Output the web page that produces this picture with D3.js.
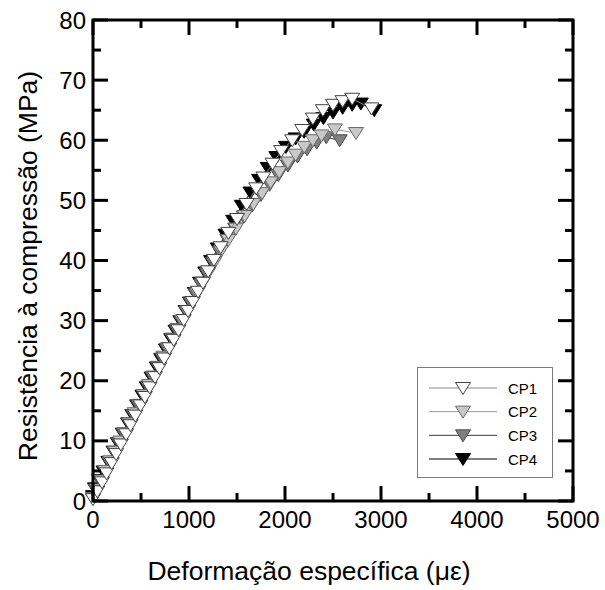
<!DOCTYPE html>
<html>
<head>
<meta charset="utf-8">
<script src="https://cdn.jsdelivr.net/npm/d3@7"></script>
<style>
  html, body { margin: 0; padding: 0; background: #fff; }
  svg text { font-family: "Liberation Sans", Arial, sans-serif; fill: #000; }
</style>
</head>
<body>
<svg id="chart" width="605" height="590"></svg>
<script>
// Stress–strain curves of four concrete specimens (CP1–CP4)
const seriesNames = ["CP1", "CP2", "CP3", "CP4"];

const cp1Strain = [0, 45, 95, 140, 195, 240, 290, 345, 390, 440, 495, 540, 590, 645, 690, 740, 795, 840, 890, 945, 990, 1040, 1095, 1145, 1200, 1260, 1330, 1410, 1500, 1600, 1700, 1775, 1870, 1960, 2075, 2180, 2290, 2395, 2500, 2600, 2700, 2900];
const cp1Stress = [0.3, 1.6, 3.1, 4.6, 6.3, 7.8, 9.4, 11.1, 12.6, 14.2, 15.9, 17.3, 18.9, 20.6, 22.1, 23.7, 25.4, 26.8, 28.4, 30.1, 31.6, 33.1, 34.8, 36.3, 38.2, 40.1, 42.2, 44.6, 46.9, 49.4, 52.0, 53.8, 56.1, 58.2, 60.0, 61.7, 63.6, 65.0, 65.9, 66.5, 66.9, 65.3];

const cp2Strain = [0, 35, 80, 130, 180, 230, 285, 330, 380, 435, 480, 530, 585, 630, 680, 735, 780, 830, 885, 930, 980, 1035, 1085, 1140, 1200, 1265, 1335, 1410, 1490, 1580, 1670, 1760, 1850, 1940, 2030, 2110, 2200, 2290, 2380, 2520, 2740];
const cp2Stress = [0.5, 1.9, 3.4, 5.0, 6.6, 8.2, 9.9, 11.3, 12.9, 14.6, 16.0, 17.6, 19.3, 20.7, 22.3, 24.0, 25.4, 26.9, 28.6, 30.0, 31.5, 33.1, 34.6, 36.2, 37.9, 39.7, 41.6, 43.4, 45.3, 47.4, 49.4, 51.2, 53.0, 54.7, 56.3, 57.6, 58.9, 60.0, 60.8, 61.8, 61.2];

const cp3Strain = [0, 30, 75, 125, 170, 225, 270, 320, 375, 420, 470, 525, 570, 620, 675, 720, 770, 825, 870, 920, 975, 1020, 1070, 1125, 1185, 1250, 1320, 1400, 1480, 1570, 1660, 1750, 1840, 1930, 2030, 2130, 2230, 2330, 2430, 2570];
const cp3Stress = [0.4, 1.8, 3.3, 4.9, 6.4, 8.1, 9.6, 11.1, 12.9, 14.3, 15.9, 17.6, 19.0, 20.6, 22.3, 23.7, 25.3, 27.0, 28.4, 29.9, 31.5, 32.9, 34.4, 36.0, 37.8, 39.6, 41.4, 43.4, 45.3, 47.3, 49.2, 50.9, 52.6, 54.2, 55.8, 57.3, 58.5, 59.6, 60.5, 60.0];

const cp4Strain = [0, 20, 65, 110, 160, 215, 260, 310, 365, 410, 460, 515, 560, 610, 665, 710, 760, 815, 860, 910, 965, 1010, 1060, 1115, 1170, 1230, 1300, 1380, 1460, 1550, 1640, 1730, 1820, 1910, 2010, 2110, 2200, 2300, 2400, 2500, 2600, 2700, 2790, 2930];
const cp4Stress = [0.8, 2.1, 3.5, 4.9, 6.5, 8.2, 9.6, 11.2, 12.9, 14.3, 15.9, 17.5, 18.9, 20.5, 22.2, 23.6, 25.2, 26.9, 28.3, 29.9, 31.6, 33.0, 34.6, 36.3, 38.0, 39.9, 42.0, 44.3, 46.6, 49.1, 51.3, 53.4, 55.4, 57.2, 58.9, 60.3, 61.4, 62.6, 63.7, 64.6, 65.4, 65.9, 66.1, 65.0];

const xTicks = [0, 1000, 2000, 3000, 4000, 5000];
const yTicks = [0, 10, 20, 30, 40, 50, 60, 70, 80];
const xTitle = "Deformação específica (\u03BC\u03B5)";
const yTitle = "Resistência à compressão (MPa)";

const seriesStyle = {
  CP1: { fill: "#ffffff", stroke: "#404040", line: "#8a8a8a" },
  CP2: { fill: "#c8c8c8", stroke: "#6a6a6a", line: "#9a9a9a" },
  CP3: { fill: "#808080", stroke: "#4a4a4a", line: "#3a3a3a" },
  CP4: { fill: "#000000", stroke: "#000000", line: "#000000" }
};

const series = [
  { name: "CP1", strain: cp1Strain, stress: cp1Stress },
  { name: "CP2", strain: cp2Strain, stress: cp2Stress },
  { name: "CP3", strain: cp3Strain, stress: cp3Stress },
  { name: "CP4", strain: cp4Strain, stress: cp4Stress }
];

const plot = { left: 93, right: 573, top: 20, bottom: 501 };
const x = d3.scaleLinear().domain([0, 5000]).range([plot.left, plot.right]);
const y = d3.scaleLinear().domain([0, 80]).range([plot.bottom, plot.top]);

const svg = d3.select("#chart");

// downward-pointing triangle symbol
const tri = "M-7.5,-5.5L7.5,-5.5L0,6.5Z";

const line = d3.line().x(d => x(d[0])).y(d => y(d[1]));
const dataLayer = svg.append("g");

// later specimens underneath, CP1 on top
series.slice().reverse().forEach(s => {
  const st = seriesStyle[s.name];
  const pts = s.strain.map((v, i) => [v, s.stress[i]]);
  const g = dataLayer.append("g");
  g.append("path").datum(pts)
    .attr("d", line).attr("fill", "none")
    .attr("stroke", st.line).attr("stroke-width", 1);
  g.selectAll("path.mk").data(pts).enter().append("path")
    .attr("class", "mk")
    .attr("d", tri)
    .attr("transform", d => `translate(${x(d[0])},${y(d[1])})`)
    .attr("fill", st.fill).attr("stroke", st.stroke).attr("stroke-width", 1);
});

// axes with inward ticks on all four sides
const xMinor = d3.range(500, 5000, 1000);
const yMinor = d3.range(5, 80, 10);
const axes = svg.append("g");
const tickW = 3, major = 15, minor = 8;

function addTicks(values, len, side) {
  values.forEach(v => {
    let x1, y1, x2, y2;
    if (side === "bottom") { x1 = x2 = x(v); y1 = plot.bottom; y2 = plot.bottom - len; }
    if (side === "top") { x1 = x2 = x(v); y1 = plot.top; y2 = plot.top + len; }
    if (side === "left") { y1 = y2 = y(v); x1 = plot.left; x2 = plot.left + len; }
    if (side === "right") { y1 = y2 = y(v); x1 = plot.right; x2 = plot.right - len; }
    axes.append("line").attr("x1", x1).attr("y1", y1).attr("x2", x2).attr("y2", y2)
      .attr("stroke", "#000").attr("stroke-width", tickW);
  });
}
addTicks(xTicks, major, "bottom"); addTicks(xTicks, major, "top");
addTicks(xMinor, minor, "bottom"); addTicks(xMinor, minor, "top");
addTicks(yTicks, major, "left"); addTicks(yTicks, major, "right");
addTicks(yMinor, minor, "left"); addTicks(yMinor, minor, "right");

axes.append("rect")
  .attr("x", plot.left).attr("y", plot.top)
  .attr("width", plot.right - plot.left).attr("height", plot.bottom - plot.top)
  .attr("fill", "none").attr("stroke", "#000").attr("stroke-width", 3);

axes.selectAll("text.xt").data(xTicks).enter().append("text")
  .attr("class", "xt")
  .attr("x", d => x(d)).attr("y", 528)
  .attr("text-anchor", "middle").attr("font-size", 24)
  .text(d => d);

axes.selectAll("text.yt").data(yTicks).enter().append("text")
  .attr("class", "yt")
  .attr("x", 86).attr("y", d => y(d) + 8.5)
  .attr("text-anchor", "end").attr("font-size", 24)
  .text(d => d);

svg.append("text")
  .attr("x", 309).attr("y", 580)
  .attr("text-anchor", "middle").attr("font-size", 26.5)
  .text(xTitle);

svg.append("text")
  .attr("transform", "translate(37,266) rotate(-90)")
  .attr("text-anchor", "middle").attr("font-size", 26.5)
  .text(yTitle);

// legend
const lg = svg.append("g");
lg.append("rect").attr("x", 417.5).attr("y", 367.5).attr("width", 135).attr("height", 110)
  .attr("fill", "#fff").attr("stroke", "#7a7a7a").attr("stroke-width", 1);
const rowY = d3.scalePoint().domain(seriesNames).range([388, 459]);
seriesNames.forEach(n => {
  const st = seriesStyle[n];
  const yy = rowY(n);
  lg.append("line").attr("x1", 429).attr("x2", 497).attr("y1", yy).attr("y2", yy)
    .attr("stroke", st.line).attr("stroke-width", 1);
  lg.append("path").attr("d", tri).attr("transform", `translate(463,${yy})`)
    .attr("fill", st.fill).attr("stroke", st.stroke).attr("stroke-width", 1);
  lg.append("text").attr("x", 508).attr("y", yy + 5.5).attr("font-size", 15).text(n);
});
</script>
</body>
</html>
